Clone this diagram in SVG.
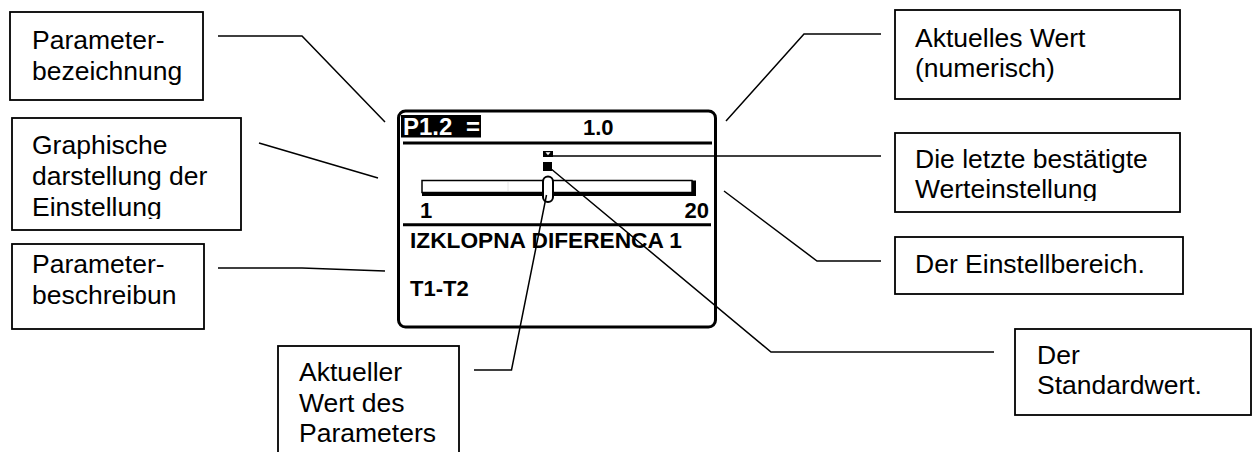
<svg xmlns="http://www.w3.org/2000/svg" width="1254" height="452" viewBox="0 0 1254 452">
<style>
.box{fill:#fff;stroke:#000;stroke-width:1.8}
.lbl{font-family:"Liberation Sans",Arial,sans-serif;font-size:26.5px;fill:#000}
.con{fill:none;stroke:#000;stroke-width:1.5}
.lcd{font-family:"Liberation Sans",Arial,sans-serif;font-weight:bold;font-size:22px;fill:#000}
.thick{fill:none;stroke:#000;stroke-width:3}
</style>
<defs>
<clipPath id="c2"><rect x="12" y="118" width="229" height="101"/></clipPath>
<clipPath id="cB"><rect x="895" y="133" width="285" height="68"/></clipPath>
</defs>
<rect width="1254" height="452" fill="#fff"/>

<g id="display">
<rect x="398.5" y="111" width="317" height="216" rx="7" class="thick"/>
<rect x="401" y="115" width="80" height="22.5" fill="#000"/>
<text class="lcd" x="403" y="135" fill="#fff" style="fill:#fff;font-size:24px">P1.2</text>
<text class="lcd" x="466" y="135" style="fill:#fff;font-size:24px">=</text>
<text class="lcd" x="583" y="135">1.0</text>
<line x1="403" y1="143" x2="712" y2="143" class="thick"/>
<rect x="422" y="180.5" width="270" height="12" fill="#fff" stroke="#000" stroke-width="1.5"/>
<polyline points="422,194 694,194 694,180.5" fill="none" stroke="#000" stroke-width="4"/>
<line x1="508" y1="182" x2="508" y2="191" stroke="#e6e6e6" stroke-width="1"/>
<rect x="543" y="176.5" width="10" height="25.5" rx="5" fill="#fff" stroke="#000" stroke-width="2"/>
<rect x="543" y="151" width="10" height="6" fill="#000"/>
<polygon points="545.5,152.3 550.5,152.3 548,155.3" fill="#fff"/>
<rect x="543" y="162" width="9" height="9" fill="#000"/>
<text class="lcd" x="420" y="218">1</text>
<text class="lcd" x="709" y="218" text-anchor="end">20</text>
<line x1="403" y1="224.7" x2="711" y2="224.7" class="thick"/>
<text class="lcd" x="410" y="248" textLength="272" lengthAdjust="spacingAndGlyphs">IZKLOPNA DIFERENCA 1</text>
<text class="lcd" x="410" y="296">T1-T2</text>
</g>

<g id="connectors">
<polyline class="con" points="218,36 302,36 385,122"/>
<polyline class="con" points="259,143 378,178"/>
<polyline class="con" points="218,268 302,268 385,271"/>
<polyline class="con" points="726,121 804,34 881,34"/>
<polyline class="con" points="553,156 881,156"/>
<polyline class="con" points="724,191 817,261 881,261"/>
<polyline class="con" points="550,168 771,352 994,352"/>
<polyline class="con" points="546.5,195 511.5,370 474,370"/>
</g>

<g id="n-bezeichnung">
<rect class="box" x="10" y="12" width="193" height="88"/>
<text class="lbl" x="32" y="49">Parameter-</text>
<text class="lbl" x="32" y="79.5">bezeichnung</text>
</g>
<g id="n-graphisch">
<rect class="box" x="12" y="118" width="229" height="112"/>
<g clip-path="url(#c2)">
<text class="lbl" x="32" y="154">Graphische</text>
<text class="lbl" x="32" y="185">darstellung der</text>
<text class="lbl" x="32" y="216">Einstellung</text>
</g>
</g>
<g id="n-beschreibung">
<rect class="box" x="12" y="244" width="192" height="85"/>
<text class="lbl" x="32" y="273">Parameter-</text>
<text class="lbl" x="32" y="303.5">beschreibun</text>
</g>
<g id="n-aktueller">
<rect class="box" x="278" y="346" width="181" height="130"/>
<text class="lbl" x="299" y="381">Aktueller</text>
<text class="lbl" x="299" y="411.5">Wert des</text>
<text class="lbl" x="299" y="442">Parameters</text>
</g>
<g id="n-aktuelles">
<rect class="box" x="895" y="10" width="285" height="89"/>
<text class="lbl" x="915" y="47">Aktuelles Wert</text>
<text class="lbl" x="915" y="76.5">(numerisch)</text>
</g>
<g id="n-letzte">
<rect class="box" x="895" y="133" width="285" height="79"/>
<g clip-path="url(#cB)">
<text class="lbl" x="915" y="168">Die letzte bestätigte</text>
<text class="lbl" x="915" y="198">Werteinstellung</text>
</g>
</g>
<g id="n-bereich">
<rect class="box" x="895" y="237" width="288" height="57"/>
<text class="lbl" x="915" y="272.5">Der Einstellbereich.</text>
</g>
<g id="n-standard">
<rect class="box" x="1015" y="329" width="236" height="86"/>
<text class="lbl" x="1037" y="364">Der</text>
<text class="lbl" x="1037" y="393.5">Standardwert.</text>
</g>
</svg>
